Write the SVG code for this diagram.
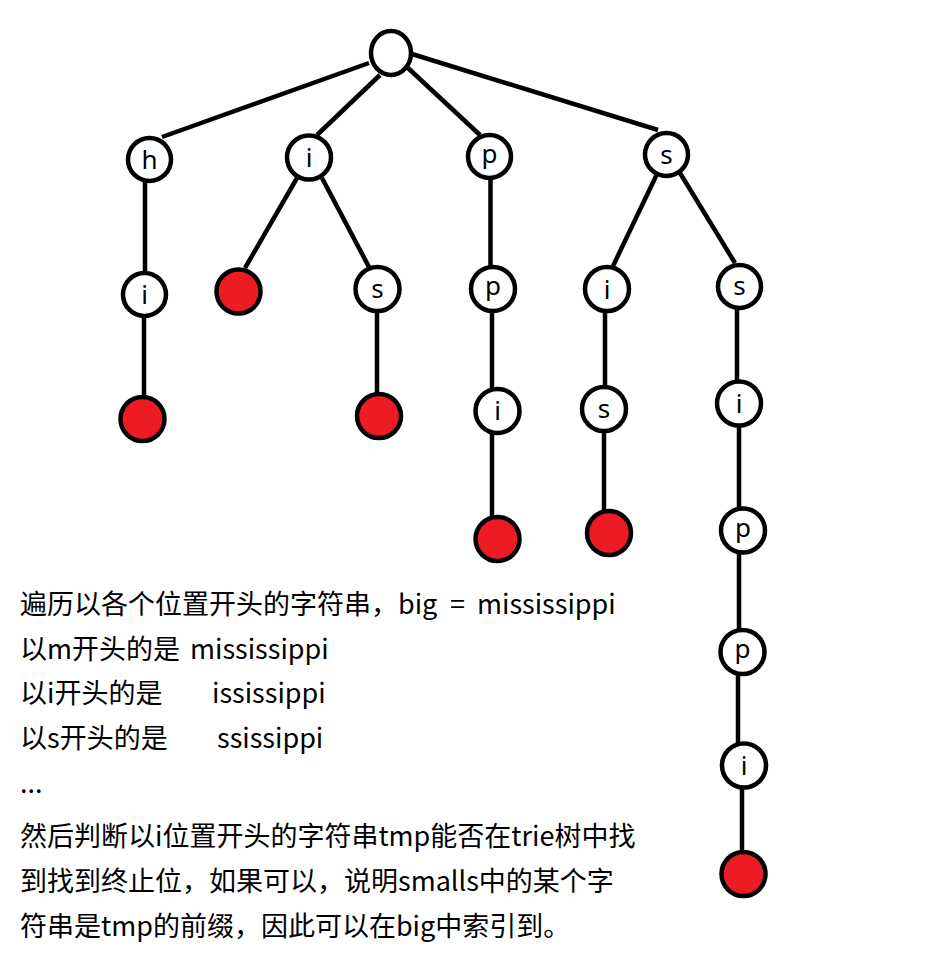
<svg xmlns="http://www.w3.org/2000/svg" width="927" height="979" viewBox="0 0 927 979">
<style>
.n{fill:#fff;stroke:#000;stroke-width:4.5}
.r{fill:#ED1C24;stroke:#000;stroke-width:4.5}
.e{stroke:#000;stroke-width:4.5;fill:none}
.l{font-family:"Noto Sans","Noto Sans CJK SC",sans-serif;font-size:26px;fill:#000;text-anchor:middle}
.t{font-family:"Noto Sans CJK SC",sans-serif;font-size:27px;fill:#000}
</style>
<rect width="927" height="979" fill="#fff"/>
<g id="connectors">
<line class="e" x1="369" y1="63" x2="162" y2="137"/>
<line class="e" x1="380" y1="75" x2="317" y2="135"/>
<line class="e" x1="408" y1="68" x2="480" y2="135"/>
<line class="e" x1="412" y1="54" x2="658" y2="130"/>
<line class="e" x1="145" y1="181" x2="145" y2="272"/>
<line class="e" x1="144" y1="317" x2="144" y2="396"/>
<line class="e" x1="297" y1="178" x2="245" y2="268"/>
<line class="e" x1="322" y1="178" x2="369" y2="267"/>
<line class="e" x1="377" y1="311" x2="377" y2="393"/>
<line class="e" x1="490.5" y1="178" x2="490.5" y2="266"/>
<line class="e" x1="492" y1="311" x2="492" y2="389"/>
<line class="e" x1="492" y1="433" x2="492" y2="517"/>
<line class="e" x1="658" y1="172" x2="613" y2="266"/>
<line class="e" x1="680" y1="173" x2="735" y2="263"/>
<line class="e" x1="605" y1="311" x2="605" y2="387"/>
<line class="e" x1="604" y1="431" x2="604" y2="511"/>
<line class="e" x1="737" y1="308" x2="737" y2="382"/>
<line class="e" x1="739" y1="425" x2="739" y2="509"/>
<line class="e" x1="739" y1="552" x2="739" y2="630"/>
<line class="e" x1="738" y1="674" x2="738" y2="744"/>
<line class="e" x1="742" y1="787" x2="742" y2="852"/>
</g>
<g id="root"><ellipse class="n" cx="391" cy="53" rx="20" ry="22"/></g>
<g id="n_h"><circle class="n" cx="149.5" cy="159.5" r="21.5"/><text class="l" x="149.5" y="169">h</text></g>
<g id="n_i"><circle class="n" cx="309" cy="157.5" r="22"/><text class="l" x="309" y="167">i</text></g>
<g id="n_p"><circle class="n" cx="489.5" cy="156.5" r="21.5"/><text class="l" x="489.5" y="163">p</text></g>
<g id="n_s"><circle class="n" cx="666.5" cy="154.5" r="21.5"/><text class="l" x="666.5" y="164">s</text></g>
<g id="n_hi"><circle class="n" cx="144.5" cy="294.5" r="21.5"/><text class="l" x="144.5" y="304">i</text></g>
<g id="end_hi"><circle class="r" cx="142.5" cy="419" r="22"/></g>
<g id="end_i"><circle class="r" cx="238.5" cy="291.5" r="22"/></g>
<g id="n_is"><circle class="n" cx="377.5" cy="289" r="22"/><text class="l" x="377.5" y="298">s</text></g>
<g id="end_is"><circle class="r" cx="379" cy="416" r="22"/></g>
<g id="n_pp"><circle class="n" cx="493" cy="289" r="22"/><text class="l" x="493" y="295">p</text></g>
<g id="n_ppi"><circle class="n" cx="497.5" cy="411" r="22"/><text class="l" x="497.5" y="420">i</text></g>
<g id="end_ppi"><circle class="r" cx="497.5" cy="539" r="22"/></g>
<g id="n_si"><circle class="n" cx="607" cy="289" r="22"/><text class="l" x="607" y="299">i</text></g>
<g id="n_sis"><circle class="n" cx="604" cy="409" r="22"/><text class="l" x="604" y="418">s</text></g>
<g id="end_sis"><circle class="r" cx="609" cy="533" r="22"/></g>
<g id="n_ss"><circle class="n" cx="739.5" cy="286.5" r="21.5"/><text class="l" x="739.5" y="295">s</text></g>
<g id="n_ssi"><circle class="n" cx="739" cy="403.5" r="22"/><text class="l" x="739" y="413">i</text></g>
<g id="n_ssip"><circle class="n" cx="743" cy="530.5" r="22"/><text class="l" x="743" y="537">p</text></g>
<g id="n_ssipp"><circle class="n" cx="742.5" cy="652" r="22"/><text class="l" x="742.5" y="658">p</text></g>
<g id="n_ssippi"><circle class="n" cx="744" cy="765.5" r="22"/><text class="l" x="744" y="775">i</text></g>
<g id="end_ssippi"><circle class="r" cx="743.5" cy="874" r="22"/></g>
<g id="notes">
<text class="t" x="20" y="614">遍历以各个位置开头的字符串，<tspan x="398">big</tspan><tspan x="450">=</tspan><tspan x="477">mississippi</tspan></text>
<text class="t" x="20" y="659">以m开头的是<tspan x="190">mississippi</tspan></text>
<text class="t" x="20" y="703">以i开头的是<tspan x="212">ississippi</tspan></text>
<text class="t" x="20" y="748">以s开头的是<tspan x="217">ssissippi</tspan></text>
<text class="t" x="20" y="793">...</text>
<text class="t" x="20" y="846">然后判断以i位置开头的字符串tmp能否在trie树中找</text>
<text class="t" x="20" y="891">到找到终止位，如果可以，说明smalls中的某个字</text>
<text class="t" x="20" y="936">符串是tmp的前缀，因此可以在big中索引到。</text>
</g>
</svg>
